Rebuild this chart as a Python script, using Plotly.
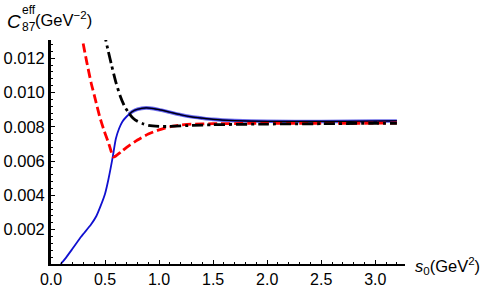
import plotly.graph_objects as go

# Blue solid curve
blue_s = [0.09, 0.13, 0.2, 0.28, 0.37, 0.42, 0.46, 0.5, 0.53, 0.57, 0.6, 0.63, 0.66, 0.7,
          0.75, 0.8, 0.88, 0.95, 1.0, 1.1, 1.2, 1.3, 1.4, 1.5, 1.7, 2.0, 2.5, 3.0, 3.2]
blue_v = [0.0, 0.0003, 0.0009, 0.0016, 0.0023, 0.0028, 0.0034, 0.0041, 0.0049, 0.0062,
          0.0073, 0.0079, 0.0083, 0.0086, 0.00888, 0.00902, 0.00910, 0.00906, 0.00900, 0.00885,
          0.00870, 0.00858, 0.00850, 0.00843, 0.00836, 0.00832, 0.00831, 0.00833, 0.00834]

# Black solid central line (on top of the blue band)
center_s = [0.72, 0.75, 0.8, 0.88, 0.95, 1.0, 1.1, 1.2, 1.3, 1.4, 1.5, 1.7, 2.0, 2.5, 3.0, 3.2]
center_v = [0.00872, 0.00888, 0.00902, 0.00910, 0.00906, 0.00900, 0.00885, 0.00870, 0.00858,
            0.00850, 0.00843, 0.00836, 0.00832, 0.00831, 0.00833, 0.00834]

# Red dashed curve
red_s = [0.275, 0.29, 0.33, 0.37, 0.41, 0.45, 0.49, 0.53, 0.555, 0.575, 0.6, 0.65, 0.7, 0.8,
         0.9, 1.0, 1.1, 1.2, 1.3, 1.5, 2.0, 2.5, 3.0, 3.2]
red_v = [0.0136, 0.0131, 0.0118, 0.0106, 0.0096, 0.0086, 0.0078, 0.0071, 0.0066, 0.00624,
         0.00630, 0.00655, 0.00680, 0.00723, 0.00758, 0.00782, 0.00800, 0.00810, 0.00815,
         0.00818, 0.00820, 0.00820, 0.00821, 0.00822]

# Black dash-dot curve
black_s = [0.49, 0.505, 0.53, 0.56, 0.6, 0.64, 0.68, 0.72, 0.76, 0.8, 0.85, 0.9, 1.0, 1.1, 1.3,
           1.5, 2.0, 2.5, 3.0, 3.2]
black_v = [0.0136, 0.0131, 0.0124, 0.0116, 0.0106, 0.0098, 0.0092, 0.0088, 0.0085, 0.00832,
           0.00818, 0.00808, 0.00802, 0.00802, 0.00808, 0.00812, 0.00816, 0.00818, 0.00820,
           0.00820]

x_ticks = [0.0, 0.5, 1.0, 1.5, 2.0, 2.5, 3.0]
x_tick_labels = ["0.0", "0.5", "1.0", "1.5", "2.0", "2.5", "3.0"]
y_ticks = [0.002, 0.004, 0.006, 0.008, 0.010, 0.012]
y_tick_labels = ["0.002", "0.004", "0.006", "0.008", "0.010", "0.012"]

FONT = "Liberation Sans, Arial, sans-serif"

fig = go.Figure()
fig.add_trace(go.Scatter(x=center_s, y=center_v, mode="lines",
                         line=dict(color="#4a4ae0", width=3.6, shape="spline", smoothing=0.6),
                         opacity=0.8, hoverinfo="skip"))
fig.add_trace(go.Scatter(x=blue_s, y=blue_v, mode="lines",
                         line=dict(color="#1010d0", width=1.8, shape="spline", smoothing=0.6)))
fig.add_trace(go.Scatter(x=center_s, y=center_v, mode="lines",
                         line=dict(color="black", width=1.2, shape="spline", smoothing=0.6)))
fig.add_trace(go.Scatter(x=red_s, y=red_v, mode="lines",
                         line=dict(color="#ff0000", width=2.8, dash="9px,4px",
                                   shape="spline", smoothing=0.5)))
fig.add_trace(go.Scatter(x=black_s, y=black_v, mode="lines",
                         line=dict(color="black", width=2.8, dash="11px,4px,3px,4px",
                                   shape="spline", smoothing=0.5)))

fig.update_layout(
    width=491, height=288,
    margin=dict(l=51, r=86, t=40, b=24, autoexpand=False),
    paper_bgcolor="white", plot_bgcolor="white",
    showlegend=False,
    font=dict(family=FONT, size=16, color="black"),
    xaxis=dict(range=[0, 3.275], tickvals=x_ticks, ticktext=x_tick_labels, automargin=False,
               showgrid=False, zeroline=False, showline=True, linecolor="black", linewidth=1.6,
               ticks="inside", ticklen=4, tickwidth=1.2, tickcolor="black",
               minor=dict(dtick=0.1, ticks="inside", ticklen=2, tickwidth=1, tickcolor="black"),
               tickfont=dict(family=FONT, size=16)),
    yaxis=dict(range=[0, 0.01306], tickvals=y_ticks, ticktext=y_tick_labels, automargin=False,
               showgrid=False, zeroline=False, showline=True, linecolor="black", linewidth=2.8,
               ticks="inside", ticklen=4, tickwidth=1.2, tickcolor="black",
               minor=dict(dtick=0.0004, ticks="inside", ticklen=2, tickwidth=1, tickcolor="black"),
               tickfont=dict(family=FONT, size=16.5)),
)

# y-axis label (top-left)
fig.add_annotation(xref="paper", yref="paper", x=-0.124, y=1.0, xshift=-2, yshift=19,
                   xanchor="left", yanchor="middle", showarrow=False,
                   text="<i>C</i>", font=dict(family=FONT, size=19))
fig.add_annotation(xref="paper", yref="paper", x=-0.082, y=1.0, xshift=-2, yshift=30,
                   xanchor="left", yanchor="middle", showarrow=False,
                   text="eff", font=dict(family=FONT, size=12))
fig.add_annotation(xref="paper", yref="paper", x=-0.082, y=1.0, xshift=-2, yshift=13,
                   xanchor="left", yanchor="middle", showarrow=False,
                   text="87", font=dict(family=FONT, size=12))
fig.add_annotation(xref="paper", yref="paper", x=-0.047, y=1.0, xshift=-1, yshift=21,
                   xanchor="left", yanchor="middle", showarrow=False,
                   text="(GeV<sup>\u22122</sup>)", font=dict(family=FONT, size=16.5))

# x-axis label (right)
fig.add_annotation(xref="paper", yref="paper", x=1.0, y=0.0, xshift=8, yshift=-2,
                   xanchor="left", yanchor="middle", showarrow=False,
                   text="<i>s</i><sub>0</sub>(GeV<sup>2</sup>)", font=dict(family=FONT, size=16.5))

# remove the page's default body margin so the figure sits at the window's corner
fig.write_html("out.html", config={"displayModeBar": False},
               post_script="document.body.style.margin='0';")
